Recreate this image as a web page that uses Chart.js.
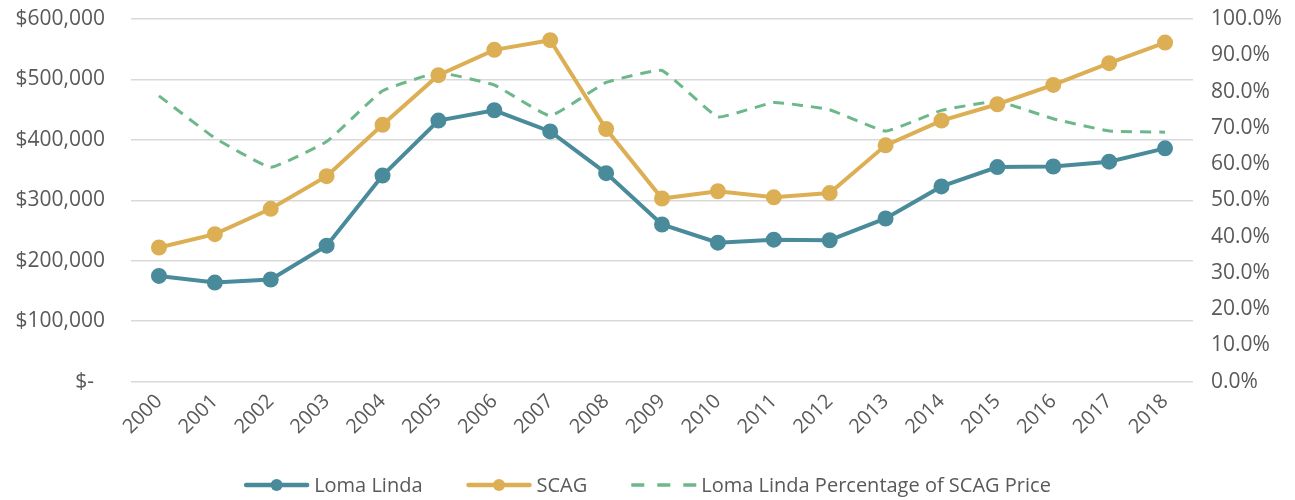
<!DOCTYPE html>
<html>
<head>
<meta charset="utf-8">
<script src="https://cdn.jsdelivr.net/npm/chart.js@4.4.1/dist/chart.umd.min.js"></script>
<style>
  html, body { margin: 0; padding: 0; background: #fff; }
  #wrap { width: 1295px; height: 500px; position: relative; }
</style>
</head>
<body>
<div id="wrap"><canvas id="chart"></canvas></div>
<script>
const years = ['2000', '2001', '2002', '2003', '2004', '2005', '2006', '2007', '2008', '2009',
  '2010', '2011', '2012', '2013', '2014', '2015', '2016', '2017', '2018'];

const lomaLinda = [175000, 164000, 169000, 225000, 341000, 432000, 449000, 414000, 345000, 260000,
  230000, 235000, 234000, 270000, 323000, 355000, 356000, 364000, 386000];

const scag = [222000, 244000, 286000, 340000, 425000, 507000, 549000, 565000, 418000, 303000,
  315000, 305000, 312000, 391000, 432000, 459000, 491000, 527000, 561000];

const pctOfScag = [78.8, 67.2, 59.1, 66.2, 80.2, 85.2, 81.8, 73.3, 82.5, 85.8,
  73.0, 77.0, 75.0, 69.1, 74.8, 77.3, 72.5, 69.1, 68.8];

const FONT = 'Open Sans';
const TEXT = '#595959';

// legend drawn by hand so the line + dot sample matches the original
const bottomLegend = {
  id: 'bottomLegend',
  afterDraw(chart) {
    const ctx = chart.ctx;
    const y = 485;
    const sample = 65;
    const gap = 5;
    const spacing = 44;
    ctx.save();
    ctx.font = '20px "' + FONT + '"';
    ctx.textBaseline = 'middle';
    const items = chart.data.datasets.map(ds => ({
      ds, w: sample + gap + ctx.measureText(ds.label).width
    }));
    const total = items.reduce((s, it) => s + it.w, 0) + spacing * (items.length - 1);
    let x = (chart.width - total) / 2;
    items.forEach(({ ds, w }) => {
      ctx.strokeStyle = ds.borderColor;
      ctx.lineWidth = ds.borderWidth + 0.5;
      ctx.beginPath();
      if (ds.borderDash) {
        ctx.setLineDash([13, 13]);
        ctx.lineCap = 'butt';
        ctx.moveTo(x, y);
        ctx.lineTo(x + sample, y);
      } else {
        ctx.lineCap = 'round';
        ctx.moveTo(x + 2, y);
        ctx.lineTo(x + sample - 2, y);
      }
      ctx.stroke();
      ctx.setLineDash([]);
      if (ds.pointRadius) {
        ctx.fillStyle = ds.borderColor;
        ctx.beginPath();
        ctx.arc(x + sample / 2, y, ds.pointRadius, 0, Math.PI * 2);
        ctx.fill();
      }
      ctx.fillStyle = TEXT;
      ctx.fillText(ds.label, x + sample + gap, y + 1);
      x += w + spacing;
    });
    ctx.restore();
  }
};

// drop the extra room chart.js keeps for overhanging labels and pin the axis widths
const noOverhangX = scale => { scale.paddingLeft = 0; scale.paddingRight = 0; };
const fixWidth = w => scale => {
  scale.paddingTop = 0;
  scale.paddingBottom = 0;
  scale.width = w;
};

new Chart(document.getElementById('chart'), {
  type: 'line',
  data: {
    labels: years,
    datasets: [
      {
        label: 'Loma Linda',
        data: lomaLinda,
        yAxisID: 'y',
        borderColor: '#4a8b9b',
        backgroundColor: '#4a8b9b',
        borderWidth: 4,
        pointRadius: 6,
        pointHoverRadius: 6,
        tension: 0,
        order: 1
      },
      {
        label: 'SCAG',
        data: scag,
        yAxisID: 'y',
        borderColor: '#ddaf55',
        backgroundColor: '#ddaf55',
        borderWidth: 4,
        pointRadius: 6,
        pointHoverRadius: 6,
        tension: 0,
        order: 2
      },
      {
        label: 'Loma Linda Percentage of SCAG Price',
        data: pctOfScag,
        yAxisID: 'y1',
        borderColor: '#6db88a',
        backgroundColor: '#6db88a',
        borderWidth: 3,
        borderDash: [11, 8],
        pointRadius: 0,
        tension: 0.1,
        order: 3
      }
    ]
  },
  options: {
    responsive: true,
    maintainAspectRatio: false,
    animation: false,
    layout: {
      padding: { left: 12, right: 12, top: 19, bottom: 53 }
    },
    scales: {
      x: {
        offset: true,
        afterFit: noOverhangX,
        grid: { display: false, drawTicks: false },
        border: { display: false },
        ticks: {
          color: TEXT,
          font: { family: FONT, size: 20 },
          maxRotation: 45,
          minRotation: 45,
          padding: 8
        }
      },
      y: {
        position: 'left',
        min: 0,
        max: 600000,
        afterFit: fixWidth(119),
        grid: { color: '#d9d9d9', lineWidth: 1.5, drawTicks: false },
        border: { display: false },
        ticks: {
          stepSize: 100000,
          color: TEXT,
          font: { family: FONT, size: 21 },
          padding: 26,
          // accounting style: zero shows as "$-" set in from the column edge
          callback: v => v === 0 ? '$-  ' : '$' + v.toLocaleString('en-US')
        }
      },
      y1: {
        position: 'right',
        min: 0,
        max: 100,
        afterFit: fixWidth(90),
        grid: { display: false, drawTicks: false },
        border: { display: false },
        ticks: {
          stepSize: 10,
          color: TEXT,
          font: { family: FONT, size: 21 },
          padding: 18,
          callback: v => v.toFixed(1) + '%'
        }
      }
    },
    plugins: {
      legend: { display: false },
      tooltip: { enabled: false }
    }
  },
  plugins: [bottomLegend]
});
</script>
</body>
</html>
